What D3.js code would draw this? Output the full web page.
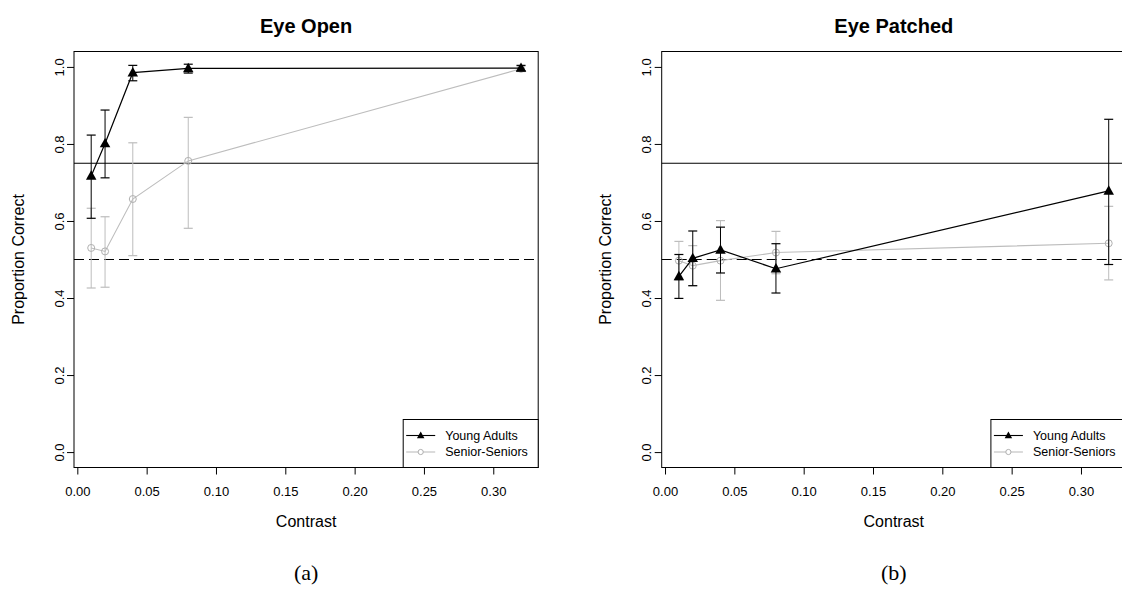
<!DOCTYPE html>
<html>
<head>
<meta charset="utf-8">
<script src="https://cdn.jsdelivr.net/npm/d3@7"></script>
<style>
  body { margin: 0; background: #fff; }
  svg { display: block; }
  text { font-family: "Liberation Sans", Arial, Helvetica, sans-serif; fill: #000; }
</style>
</head>
<body>
<svg id="chart" width="1122" height="601"></svg>
<script>
// Stimulus contrast levels
const contrast = [0.01, 0.02, 0.04, 0.08, 0.32];

// Eye open condition: proportion correct with confidence limits
const openYoung     = [0.717, 0.801, 0.985, 0.996, 0.997];
const openYoungLo   = [0.607, 0.712, 0.964, 0.984, 0.990];
const openYoungHi   = [0.823, 0.888, 1.004, 1.007, 1.004];
const openSenior    = [0.530, 0.521, 0.657, 0.756, 0.995];
const openSeniorLo  = [0.426, 0.428, 0.510, 0.581, 0.988];
const openSeniorHi  = [0.633, 0.611, 0.803, 0.869, 1.002];

// Eye patched condition
const patchYoung    = [0.456, 0.503, 0.525, 0.476, 0.678];
const patchYoungLo  = [0.399, 0.432, 0.465, 0.413, 0.487];
const patchYoungHi  = [0.513, 0.574, 0.584, 0.541, 0.864];
const patchSenior   = [0.497, 0.484, 0.497, 0.518, 0.542];
const patchSeniorLo = [0.446, 0.432, 0.394, 0.463, 0.447];
const patchSeniorHi = [0.547, 0.536, 0.601, 0.573, 0.638];

const xTicks = [0, 0.05, 0.10, 0.15, 0.20, 0.25, 0.30];
const yTicks = [0, 0.2, 0.4, 0.6, 0.8, 1.0];
const thresholdLine = 0.75;
const chanceLine = 0.5;
const groupNames = ["Young Adults", "Senior-Seniors"];

const panels = [
  { title: "Eye Open", caption: "(a)", left: 74,
    young: openYoung, youngLo: openYoungLo, youngHi: openYoungHi,
    senior: openSenior, seniorLo: openSeniorLo, seniorHi: openSeniorHi },
  { title: "Eye Patched", caption: "(b)", left: 661.7,
    young: patchYoung, youngLo: patchYoungLo, youngHi: patchYoungHi,
    senior: patchSenior, seniorLo: patchSeniorLo, seniorHi: patchSeniorHi }
];

const svg = d3.select("#chart");
const W = 464.2, TOP = 51.5, BOTTOM = 467.5;
const BLACK = "#000", GREY = "#bdbdbd";

const y = d3.scaleLinear().domain([-0.04, 1.04]).range([BOTTOM, TOP]);

function triangle(g, cx, cy, s) {
  const h = s * 0.9;
  g.append("path")
    .attr("d", `M${cx},${cy - h * 0.6}L${cx + s / 2},${cy + h * 0.4}L${cx - s / 2},${cy + h * 0.4}Z`)
    .attr("fill", BLACK);
}

panels.forEach(p => {
  const x = d3.scaleLinear().domain([-0.0024, 0.3324]).range([p.left, p.left + W]);
  const g = svg.append("g");

  // title
  g.append("text").attr("x", p.left + W / 2).attr("y", 33)
    .attr("text-anchor", "middle").attr("font-size", 20).attr("font-weight", "bold")
    .text(p.title);

  // x axis
  const xa = g.append("g").attr("transform", `translate(0,${BOTTOM})`)
    .call(d3.axisBottom(x).tickValues(xTicks).tickSize(7).tickPadding(12).tickFormat(d3.format(".2f")));
  xa.select(".domain").remove();
  xa.selectAll("line").attr("stroke", BLACK);
  xa.selectAll("text").attr("font-size", 13).attr("font-family", null);

  // y axis with rotated labels
  const ya = g.append("g").attr("transform", `translate(${p.left},0)`)
    .call(d3.axisLeft(y).tickValues(yTicks).tickSize(7).tickFormat(d3.format(".1f")));
  ya.select(".domain").remove();
  ya.selectAll("line").attr("stroke", BLACK);
  ya.selectAll("text").attr("font-size", 13).attr("font-family", null)
    .attr("x", 0).attr("dy", "0.35em").attr("text-anchor", "middle")
    .attr("transform", "translate(-15,0) rotate(-90)");

  // axis titles
  g.append("text").attr("x", p.left + W / 2).attr("y", 527)
    .attr("text-anchor", "middle").attr("font-size", 16).text("Contrast");
  g.append("text").attr("transform", `translate(${p.left - 56},${(TOP + BOTTOM) / 2}) rotate(-90)`)
    .attr("text-anchor", "middle").attr("dy", "0.35em").attr("font-size", 16).text("Proportion Correct");

  // caption
  g.append("text").attr("x", p.left + W / 2).attr("y", 580)
    .attr("text-anchor", "middle").attr("font-size", 22)
    .style("font-family", '"Liberation Serif", "DejaVu Serif", serif')
    .text(p.caption);

  // reference lines
  g.append("line").attr("x1", p.left).attr("x2", p.left + W)
    .attr("y1", y(thresholdLine)).attr("y2", y(thresholdLine))
    .attr("stroke", BLACK).attr("stroke-width", 1.1);
  g.append("line").attr("x1", p.left).attr("x2", p.left + W)
    .attr("y1", y(chanceLine)).attr("y2", y(chanceLine))
    .attr("stroke", BLACK).attr("stroke-width", 1.1).attr("stroke-dasharray", "10,5");

  const line = d3.line().x((d, i) => x(contrast[i])).y(d => y(d));

  function errorBars(vals, lo, hi, color) {
    contrast.forEach((c, i) => {
      const cx = x(c);
      g.append("line").attr("x1", cx).attr("x2", cx).attr("y1", y(lo[i])).attr("y2", y(hi[i]))
        .attr("stroke", color).attr("stroke-width", 1);
      [lo[i], hi[i]].forEach(v => {
        g.append("line").attr("x1", cx - 4.5).attr("x2", cx + 4.5).attr("y1", y(v)).attr("y2", y(v))
          .attr("stroke", color).attr("stroke-width", 1.2);
      });
    });
  }

  // senior-seniors: grey open circles
  g.append("path").datum(p.senior).attr("d", line).attr("fill", "none")
    .attr("stroke", GREY).attr("stroke-width", 1.1);
  errorBars(p.senior, p.seniorLo, p.seniorHi, GREY);
  p.senior.forEach((v, i) => {
    g.append("circle").attr("cx", x(contrast[i])).attr("cy", y(v)).attr("r", 3.5)
      .attr("fill", "none").attr("stroke", "#b0b0b0").attr("stroke-width", 1);
  });

  // young adults: black filled triangles
  g.append("path").datum(p.young).attr("d", line).attr("fill", "none")
    .attr("stroke", BLACK).attr("stroke-width", 1.2);
  errorBars(p.young, p.youngLo, p.youngHi, BLACK);
  p.young.forEach((v, i) => triangle(g, x(contrast[i]), y(v), 10.5));

  // plot frame
  g.append("rect").attr("x", p.left).attr("y", TOP).attr("width", W).attr("height", BOTTOM - TOP)
    .attr("fill", "none").attr("stroke", BLACK).attr("stroke-width", 1);

  // legend (bottom right)
  const lw = 135, lh = 48;
  const lx = p.left + W - lw, ly = BOTTOM - lh;
  g.append("rect").attr("x", lx).attr("y", ly).attr("width", lw).attr("height", lh)
    .attr("fill", "#fff").attr("stroke", BLACK).attr("stroke-width", 1);
  const rows = [ly + 16, ly + 32.5];
  groupNames.forEach((name, k) => {
    const ry = rows[k];
    const col = k === 0 ? BLACK : GREY;
    g.append("line").attr("x1", lx + 3).attr("x2", lx + 32).attr("y1", ry).attr("y2", ry)
      .attr("stroke", col).attr("stroke-width", 1.1);
    if (k === 0) triangle(g, lx + 17.5, ry, 7.5);
    else g.append("circle").attr("cx", lx + 17.5).attr("cy", ry).attr("r", 2.6)
      .attr("fill", "#fff").attr("stroke", "#b0b0b0").attr("stroke-width", 1);
    g.append("text").attr("x", lx + 42).attr("y", ry).attr("dy", "0.35em")
      .attr("font-size", 12.5).text(name);
  });
});
</script>
</body>
</html>
